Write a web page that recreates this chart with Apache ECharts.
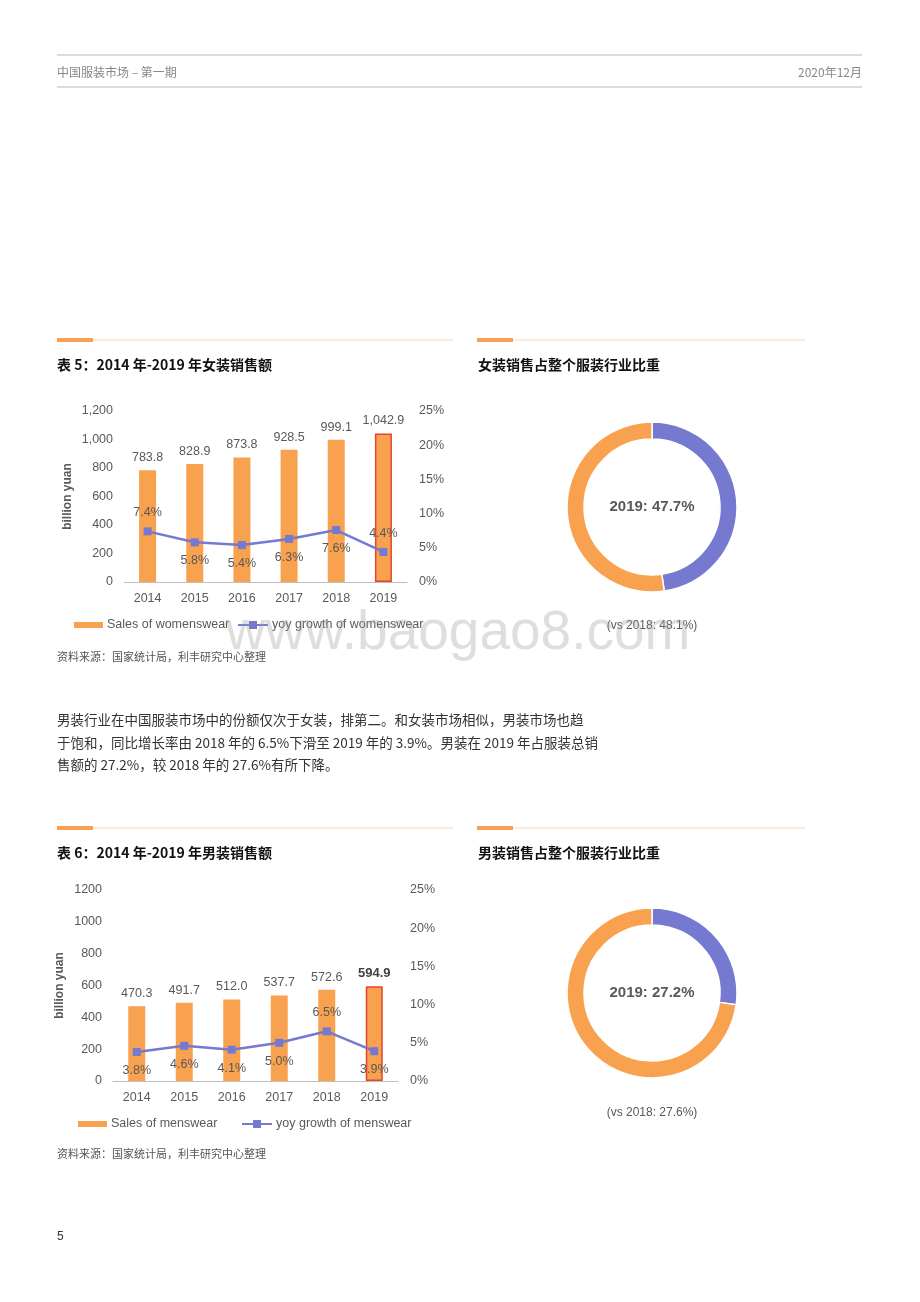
<!DOCTYPE html>
<html><head><meta charset="utf-8">
<script src="https://cdn.jsdelivr.net/npm/echarts@6/dist/echarts.min.js"></script>
<style>html,body{margin:0;padding:0;background:#fff}#c{width:920px;height:1302px}</style>
</head><body><div id="c"></div>
<script>
const years = ['2014','2015','2016','2017','2018','2019'];
const womenSales = [783.8, 828.9, 873.8, 928.5, 999.1, 1042.9];
const womenGrowth = [7.4, 5.8, 5.4, 6.3, 7.6, 4.4];
const womenGrowthLabelPos = ['top','bottom','bottom','bottom','bottom','top'];
const menSales = [470.3, 491.7, 512.0, 537.7, 572.6, 594.9];
const menGrowth = [3.8, 4.6, 4.1, 5.0, 6.5, 3.9];
const menGrowthLabelPos = ['bottom','bottom','bottom','bottom','top','bottom'];
const womenShare = 47.7, womenShare2018 = 48.1;
const menShare = 27.2, menShare2018 = 27.6;

const ORANGE = '#F8A14E', PURPLE = '#7579CF', RED = '#E2452B', GRAY = '#595959';
const FONT = '"Noto Sans CJK SC", "Liberation Sans", sans-serif';
const chart = echarts.init(document.getElementById('c'));

function barData(vals, boldLast) {
  return vals.map((v, i) => i === vals.length - 1 ? {
    value: v, itemStyle: {color: ORANGE, borderColor: RED, borderWidth: 1.5},
    label: boldLast ? {fontWeight: 'bold', fontSize: 13, color: '#404040'} : {}
  } : v);
}
function lineData(vals, pos) {
  return vals.map((v, i) => ({value: v, label: {position: pos[i]}}));
}
const axisLabel = {color: GRAY, fontSize: 12.5, fontFamily: 'Liberation Sans'};
function axesFor(gi, comma) {
  return {
    x: {type: 'category', gridIndex: gi, data: years, axisTick: {show: false},
        axisLine: {lineStyle: {color: '#bfbfbf'}}, axisLabel: Object.assign({margin: 10}, axisLabel)},
    y1: {type: 'value', gridIndex: gi, min: 0, max: 1200, interval: 200, splitLine: {show: false},
        axisLine: {show: false}, axisTick: {show: false},
        axisLabel: Object.assign({formatter: v => comma ? v.toLocaleString('en-US') : String(v), margin: 11}, axisLabel),
        name: 'billion yuan', nameLocation: 'middle', nameRotate: 90, nameGap: comma ? 50 : 47,
        nameTextStyle: {color: GRAY, fontWeight: 'bold', fontSize: 12, fontFamily: 'Liberation Sans'}},
    y2: {type: 'value', gridIndex: gi, min: 0, max: 25, interval: 5, splitLine: {show: false},
        axisLine: {show: false}, axisTick: {show: false}, position: 'right',
        axisLabel: Object.assign({formatter: '{value}%', margin: 12}, axisLabel)}
  };
}
const a0 = axesFor(0, true), a1 = axesFor(1, false);

function txt(x, y, s, o) {
  return Object.assign({type: 'text', x, y, style: Object.assign({text: s, fill: '#333', font: '13px ' + FONT, textVerticalAlign: 'middle'}, o || {})});
}
function rule(x1, x2, y, color, w) { return {type: 'line', shape: {x1, y1: y, x2, y2: y}, style: {stroke: color, lineWidth: w}}; }
function sectionBar(x1, x2, y) {
  return [rule(x1, x2, y, '#f7d9b3', 1), {type: 'rect', shape: {x: x1, y: y - 2, width: 36, height: 4}, style: {fill: ORANGE}}];
}
function legend(y, x, a, b) {
  return [
    {type: 'rect', shape: {x: x, y: y - 3, width: 29, height: 6}, style: {fill: ORANGE}},
    txt(x + 33, y, a, {fill: GRAY, font: '12.5px Liberation Sans'}),
    rule(x + 164, x + 194, y, PURPLE, 2),
    {type: 'rect', shape: {x: x + 175, y: y - 4, width: 8, height: 8}, style: {fill: PURPLE}},
    txt(x + 198, y, b, {fill: GRAY, font: '12.5px Liberation Sans'})
  ];
}
const gfx = [].concat(
  [rule(57, 862, 55, '#bbb', 1), rule(57, 862, 87, '#bbb', 1),
   txt(57, 72, '中国服装市场 – 第一期', {fill: '#888', font: '12px ' + FONT}),
   txt(862, 72, '2020年12月', {fill: '#888', font: '12px ' + FONT, textAlign: 'right'})],
  sectionBar(57, 453, 340), sectionBar(477, 805, 340),
  sectionBar(57, 453, 828), sectionBar(477, 805, 828),
  [txt(57, 365, '表 5：2014 年-2019 年女装销售额', {font: 'bold 14px ' + FONT, fill: '#111'}),
   txt(478, 365, '女装销售占整个服装行业比重', {font: 'bold 14px ' + FONT, fill: '#111'}),
   txt(57, 853, '表 6：2014 年-2019 年男装销售额', {font: 'bold 14px ' + FONT, fill: '#111'}),
   txt(478, 853, '男装销售占整个服装行业比重', {font: 'bold 14px ' + FONT, fill: '#111'})],
  legend(625, 74, 'Sales of womenswear', 'yoy growth of womenswear'),
  legend(1124, 78, 'Sales of menswear', 'yoy growth of menswear'),
  [txt(652, 626, '(vs 2018: ' + womenShare2018 + '%)', {fill: GRAY, font: '12px Liberation Sans', textAlign: 'center'}),
   txt(652, 1113, '(vs 2018: ' + menShare2018 + '%)', {fill: GRAY, font: '12px Liberation Sans', textAlign: 'center'}),
   txt(57, 657, '资料来源：国家统计局，利丰研究中心整理', {fill: '#555', font: '11px ' + FONT}),
   txt(57, 1154, '资料来源：国家统计局，利丰研究中心整理', {fill: '#555', font: '11px ' + FONT}),
   txt(57, 720, '男装行业在中国服装市场中的份额仅次于女装，排第二。和女装市场相似，男装市场也趋', {font: '13.5px ' + FONT}),
   txt(57, 743, '于饱和，同比增长率由 2018 年的 6.5%下滑至 2019 年的 3.9%。男装在 2019 年占服装总销', {font: '13.5px ' + FONT}),
   txt(57, 765, '售额的 27.2%，较 2018 年的 27.6%有所下降。', {font: '13.5px ' + FONT}),
   txt(57, 1237, '5', {font: '12px Liberation Sans', fill: '#333'}),
   Object.assign(txt(458, 634, 'www.baogao8.com', {fill: 'rgba(160,160,160,0.35)', font: '55px Liberation Sans', textAlign: 'center'}), {z: 100})]
);

function donut(center, val) {
  return {type: 'pie', center, radius: [68, 85], startAngle: 90, clockwise: true,
    label: {show: true, position: 'center', formatter: () => '2019: ' + val + '%', fontSize: 15, fontWeight: 'bold', color: GRAY, fontFamily: 'Liberation Sans'},
    labelLine: {show: false}, silent: true,
    itemStyle: {borderColor: '#fff', borderWidth: 1.5},
    data: [{value: val, itemStyle: {color: PURPLE}}, {value: 100 - val, itemStyle: {color: ORANGE}, label: {show: false}}]};
}
function lineSeries(xi, yi, data) {
  return {type: 'line', xAxisIndex: xi, yAxisIndex: yi, data, symbol: 'rect', symbolSize: 8,
    itemStyle: {color: PURPLE}, lineStyle: {color: PURPLE, width: 2.5}, z: 5,
    label: {show: true, formatter: p => p.value.toFixed(1) + '%', color: GRAY, fontSize: 12.5, fontFamily: 'Liberation Sans', distance: 8}};
}
function barSeries(xi, yi, data) {
  return {type: 'bar', xAxisIndex: xi, yAxisIndex: yi, data, barWidth: 17, itemStyle: {color: ORANGE},
    label: {show: true, position: 'top', color: GRAY, fontSize: 12.5, fontFamily: 'Liberation Sans', distance: 6,
      formatter: p => p.value >= 1000 ? p.value.toLocaleString('en-US', {minimumFractionDigits: 1}) : p.value.toFixed(1)}};
}
chart.setOption({
  animation: false,
  textStyle: {fontFamily: FONT},
  grid: [{left: 124, width: 283, top: 411, height: 171}, {left: 113, width: 285, top: 890, height: 191}],
  xAxis: [a0.x, a1.x],
  yAxis: [a0.y1, a0.y2, a1.y1, a1.y2],
  graphic: gfx,
  series: [
    barSeries(0, 0, barData(womenSales, false)),
    lineSeries(0, 1, lineData(womenGrowth, womenGrowthLabelPos)),
    barSeries(1, 2, barData(menSales, true)),
    lineSeries(1, 3, lineData(menGrowth, menGrowthLabelPos)),
    donut([652, 507], womenShare),
    donut([652, 993], menShare)
  ]
});
</script></body></html>
